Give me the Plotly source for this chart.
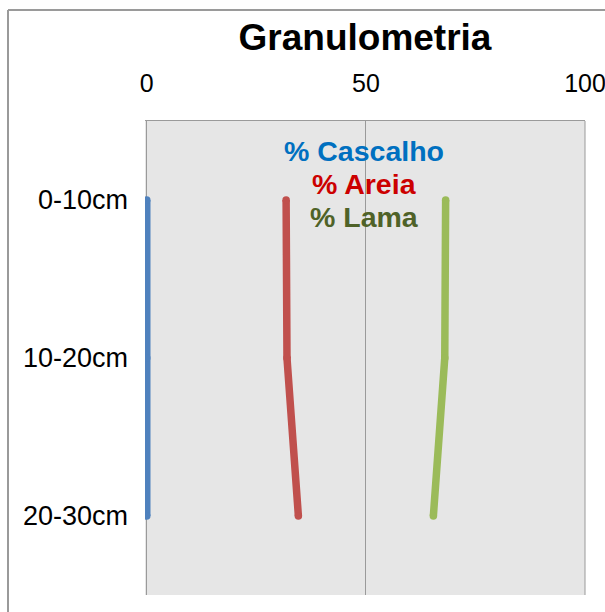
import plotly.graph_objects as go

depths = ["0-10cm", "10-20cm", "20-30cm"]
cascalho = [0, 0, 0]
areia = [31.8, 32.0, 34.6]
lama = [68.2, 68.0, 65.4]
x_ticks = [0, 50, 100]
series_names = ["% Cascalho", "% Areia", "% Lama"]

FONT = "Liberation Sans, Arial, sans-serif"
ypos = list(range(len(depths)))

L, R, T, B = 145, 20, 121, 17
W, H = 605, 612
PW, PH = W - L - R, H - T - B

fig = go.Figure()
for vals, col, name in [(cascalho, "#4F81BD", series_names[0]),
                        (areia, "#C0504D", series_names[1]),
                        (lama, "#9BBB59", series_names[2])]:
    fig.add_trace(go.Scatter(x=vals, y=ypos, mode="lines+markers", name=name,
                             line=dict(color=col, width=7.5),
                             marker=dict(color=col, size=7.5),
                             showlegend=False))

label_colors = ["#0070C0", "#CC0000", "#4F6228"]
label_y = [151, 184, 217]
for txt, c, py in zip(series_names, label_colors, label_y):
    fig.add_annotation(x=49.6, xref="x", y=(H - B - py) / PH, yref="paper",
                       text="<b>%s</b>" % txt, showarrow=False,
                       font=dict(family=FONT, size=28.5, color=c),
                       xanchor="center", yanchor="middle")

# outer chart border (left and top visible)
bx = (8 - L) / PW
by = (H - B - 10) / PH
fig.add_shape(type="line", xref="paper", yref="paper",
              x0=bx, x1=bx, y0=by, y1=(H - B - 660) / PH,
              line=dict(color="#9A9A9A", width=2))
fig.add_shape(type="line", xref="paper", yref="paper",
              x0=bx, x1=(660 - L) / PW, y0=by, y1=by,
              line=dict(color="#9A9A9A", width=2))

fig.update_layout(
    width=W, height=H,
    margin=dict(l=L, r=R, t=T, b=B, autoexpand=False),
    paper_bgcolor="white", plot_bgcolor="#E6E6E6",
    title=dict(text="<b>Granulometria</b>", x=365 / W, xanchor="center",
               y=1 - 37 / H, yanchor="middle",
               font=dict(family=FONT, size=37, color="black")),
    font=dict(family=FONT, size=25, color="black"),
    xaxis=dict(range=[-0.4, 100], side="top", tickvals=x_ticks,
               showgrid=True, gridcolor="#9A9A9A", gridwidth=1,
               zeroline=False, showline=True, linecolor="#9A9A9A", linewidth=1,
               ticks="", ticklabelstandoff=18, automargin=False,
               ticklabeloverflow="allow",
               tickfont=dict(family=FONT, size=25, color="black")),
    yaxis=dict(range=[2.5, -0.5], tickvals=ypos, ticktext=depths,
               showgrid=False, zeroline=False, showline=False,
               ticks="", ticklabelstandoff=16, automargin=False,
               tickfont=dict(family=FONT, size=27, color="black")),
)
# right border of plot area
fig.add_shape(type="line", xref="paper", yref="paper", x0=1, x1=1, y0=0, y1=1,
              line=dict(color="#9A9A9A", width=1))

fig.write_html("out.html")
